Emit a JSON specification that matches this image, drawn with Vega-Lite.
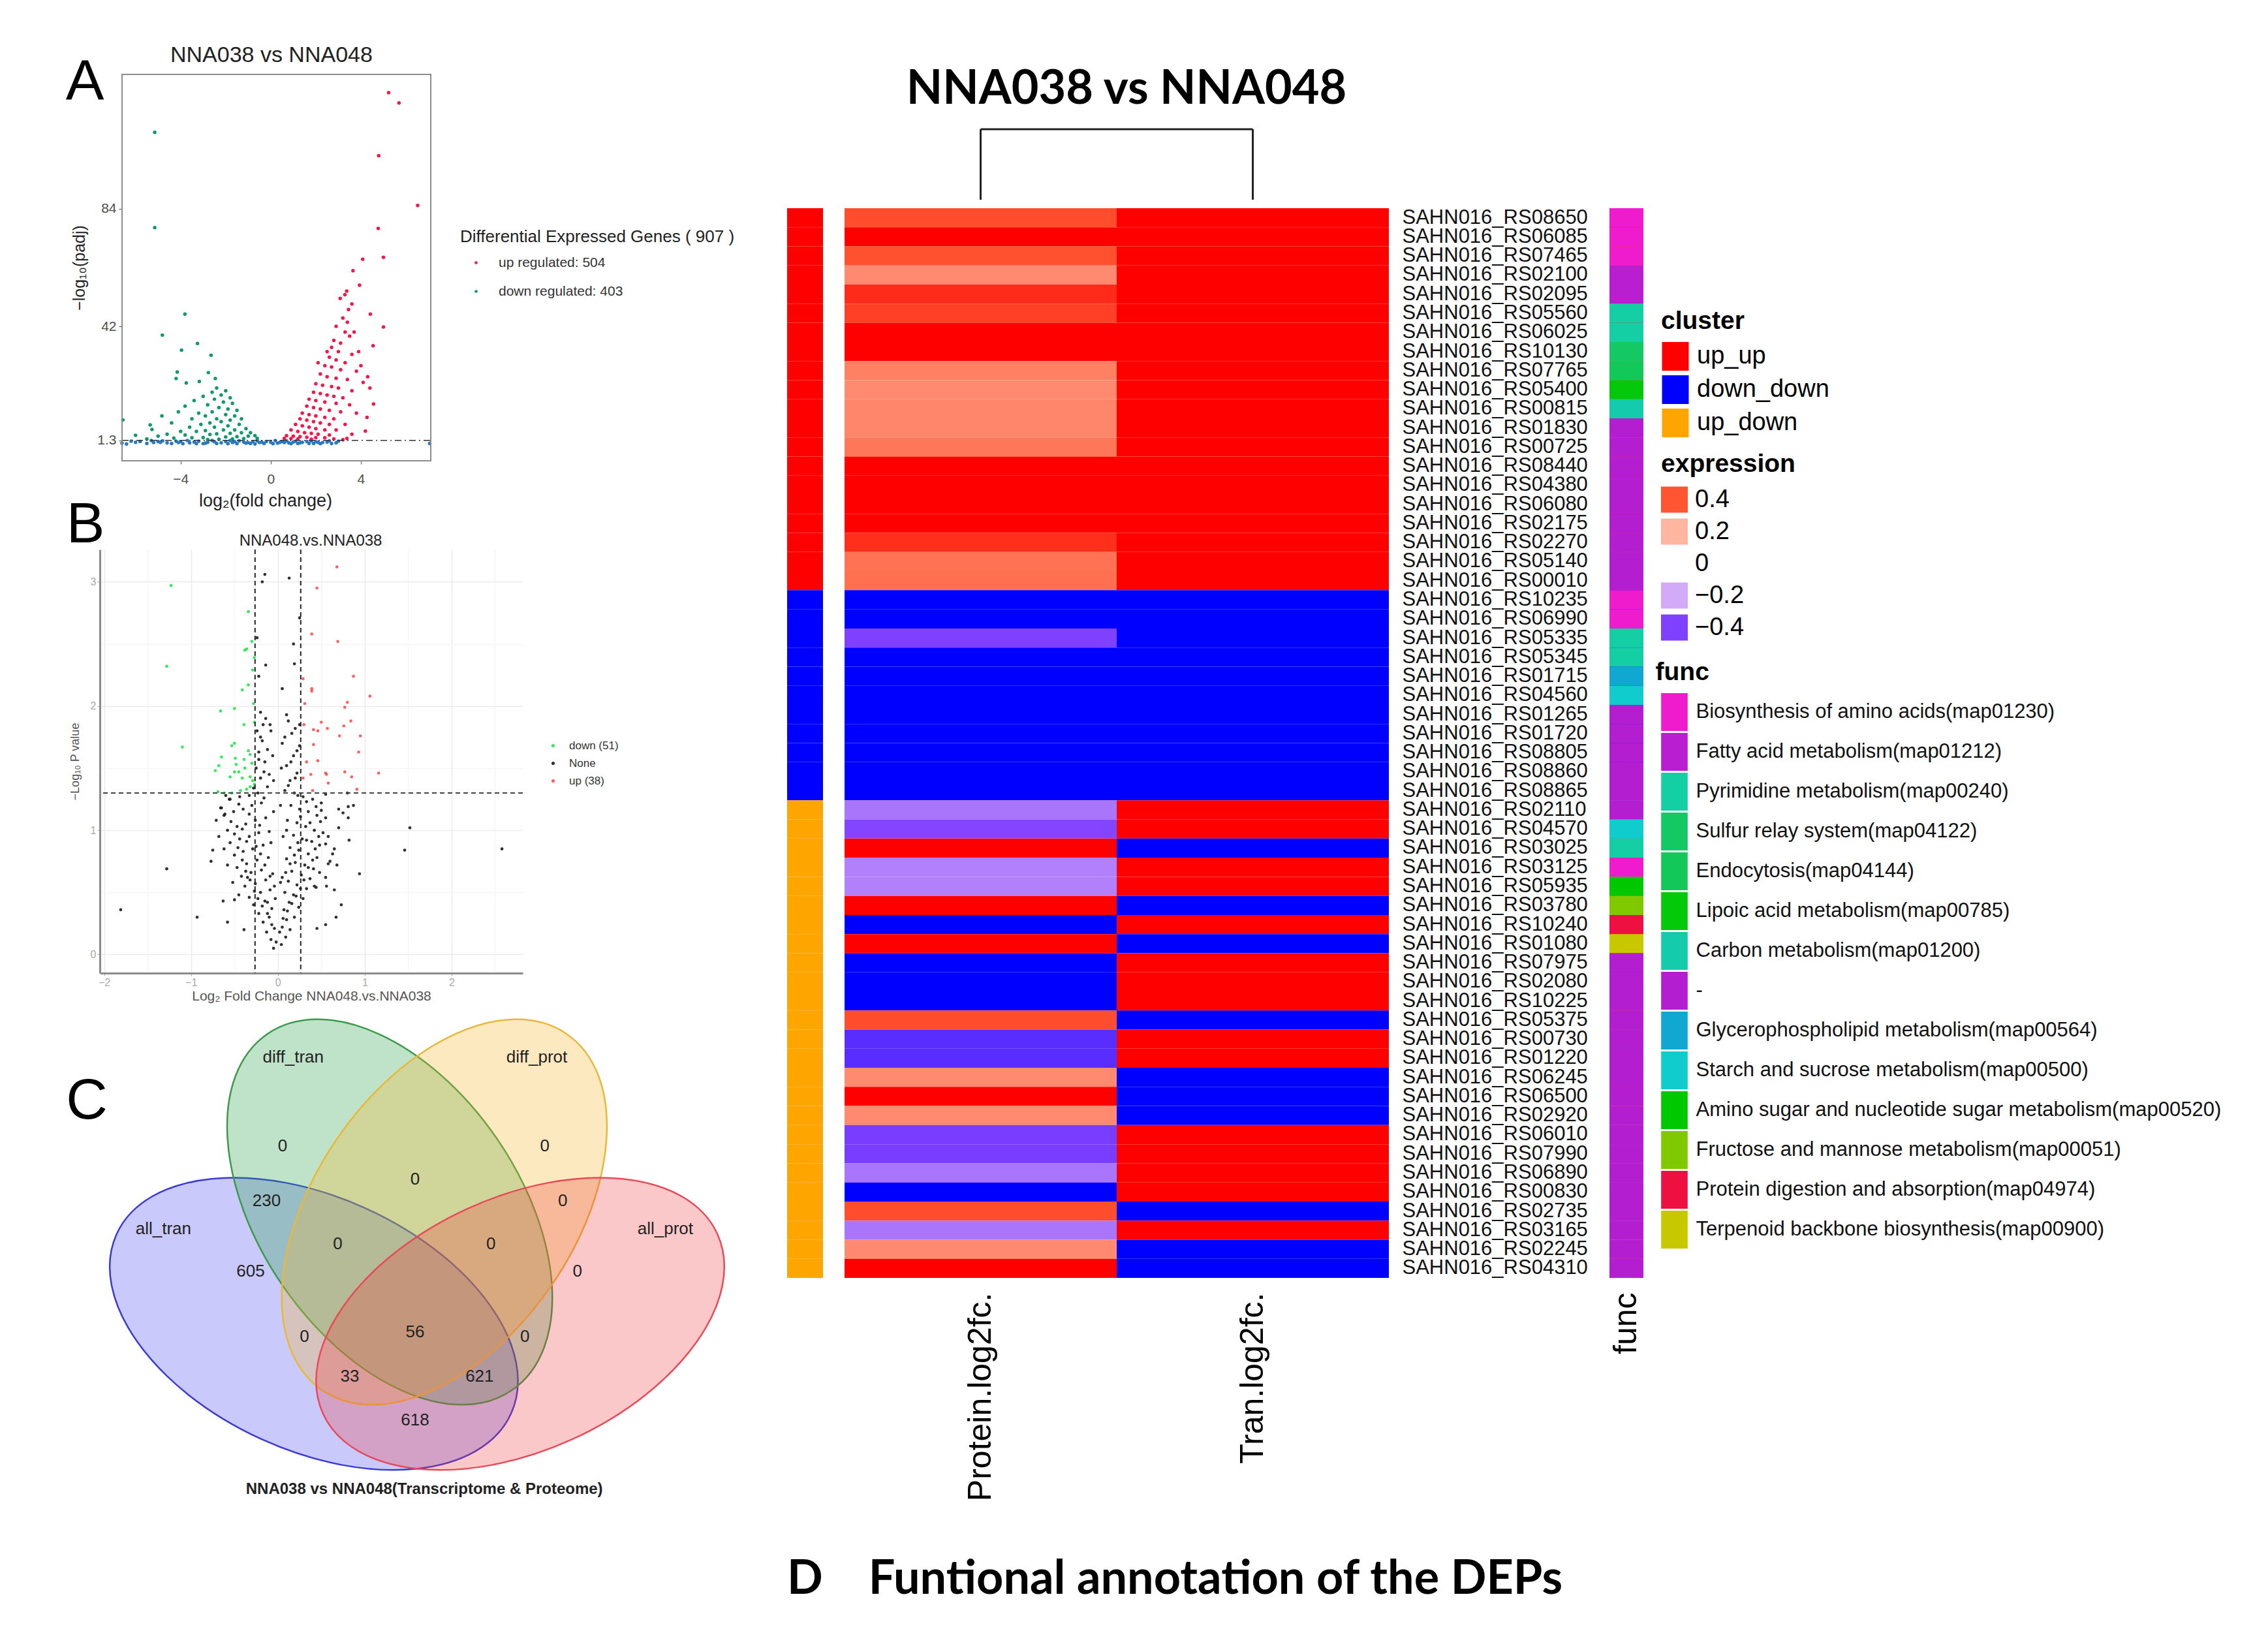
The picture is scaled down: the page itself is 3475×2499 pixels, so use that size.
{
"$schema": "https://vega.github.io/schema/vega-lite/v6.json",
"background": "white",
"padding": {"left": 100, "top": 67, "right": 10, "bottom": 10},
"config": {
 "font": "Liberation Sans",
 "view": {"stroke": null},
 "axis": {"labelFont": "Liberation Sans", "titleFont": "Liberation Sans", "titleFontWeight": "normal"},
 "legend": {"labelFont": "Liberation Sans", "titleFont": "Liberation Sans", "padding": 0, "direction": "vertical", "labelLimit": 1500, "titleLimit": 1500},
 "title": {"font": "Liberation Sans", "fontWeight": "normal", "color": "#111"}
},
"datasets": {
 "genes": [
  {"gene":"SAHN016_RS08650","cluster":"up_up","func":"Biosynthesis of amino acids(map01230)","P":0.42,"T":1.6},
  {"gene":"SAHN016_RS06085","cluster":"up_up","func":"Biosynthesis of amino acids(map01230)","P":0.85,"T":1.4},
  {"gene":"SAHN016_RS07465","cluster":"up_up","func":"Biosynthesis of amino acids(map01230)","P":0.41,"T":1.9},
  {"gene":"SAHN016_RS02100","cluster":"up_up","func":"Fatty acid metabolism(map01212)","P":0.29,"T":1.3},
  {"gene":"SAHN016_RS02095","cluster":"up_up","func":"Fatty acid metabolism(map01212)","P":0.5,"T":1.5},
  {"gene":"SAHN016_RS05560","cluster":"up_up","func":"Pyrimidine metabolism(map00240)","P":0.45,"T":2.1},
  {"gene":"SAHN016_RS06025","cluster":"up_up","func":"Pyrimidine metabolism(map00240)","P":0.9,"T":1.7},
  {"gene":"SAHN016_RS10130","cluster":"up_up","func":"Sulfur relay system(map04122)","P":0.95,"T":1.2},
  {"gene":"SAHN016_RS07765","cluster":"up_up","func":"Endocytosis(map04144)","P":0.31,"T":1.8},
  {"gene":"SAHN016_RS05400","cluster":"up_up","func":"Lipoic acid metabolism(map00785)","P":0.29,"T":1.6},
  {"gene":"SAHN016_RS00815","cluster":"up_up","func":"Carbon metabolism(map01200)","P":0.3,"T":1.4},
  {"gene":"SAHN016_RS01830","cluster":"up_up","func":"-","P":0.3,"T":1.5},
  {"gene":"SAHN016_RS00725","cluster":"up_up","func":"-","P":0.33,"T":2.0},
  {"gene":"SAHN016_RS08440","cluster":"up_up","func":"-","P":0.8,"T":1.3},
  {"gene":"SAHN016_RS04380","cluster":"up_up","func":"-","P":1.1,"T":1.9},
  {"gene":"SAHN016_RS06080","cluster":"up_up","func":"-","P":0.75,"T":1.7},
  {"gene":"SAHN016_RS02175","cluster":"up_up","func":"-","P":0.7,"T":1.1},
  {"gene":"SAHN016_RS02270","cluster":"up_up","func":"-","P":0.49,"T":1.6},
  {"gene":"SAHN016_RS05140","cluster":"up_up","func":"-","P":0.34,"T":1.4},
  {"gene":"SAHN016_RS00010","cluster":"up_up","func":"-","P":0.345,"T":1.2},
  {"gene":"SAHN016_RS10235","cluster":"down_down","func":"Biosynthesis of amino acids(map01230)","P":-1.0,"T":-1.5},
  {"gene":"SAHN016_RS06990","cluster":"down_down","func":"Biosynthesis of amino acids(map01230)","P":-0.9,"T":-1.3},
  {"gene":"SAHN016_RS05335","cluster":"down_down","func":"Pyrimidine metabolism(map00240)","P":-0.4,"T":-1.6},
  {"gene":"SAHN016_RS05345","cluster":"down_down","func":"Pyrimidine metabolism(map00240)","P":-0.8,"T":-1.2},
  {"gene":"SAHN016_RS01715","cluster":"down_down","func":"Glycerophospholipid metabolism(map00564)","P":-0.75,"T":-1.4},
  {"gene":"SAHN016_RS04560","cluster":"down_down","func":"Starch and sucrose metabolism(map00500)","P":-0.9,"T":-1.7},
  {"gene":"SAHN016_RS01265","cluster":"down_down","func":"-","P":-1.1,"T":-1.3},
  {"gene":"SAHN016_RS01720","cluster":"down_down","func":"-","P":-0.85,"T":-1.5},
  {"gene":"SAHN016_RS08805","cluster":"down_down","func":"-","P":-0.7,"T":-1.1},
  {"gene":"SAHN016_RS08860","cluster":"down_down","func":"-","P":-0.95,"T":-1.6},
  {"gene":"SAHN016_RS08865","cluster":"down_down","func":"-","P":-0.8,"T":-1.4},
  {"gene":"SAHN016_RS02110","cluster":"up_down","func":"-","P":-0.3,"T":1.3},
  {"gene":"SAHN016_RS04570","cluster":"up_down","func":"Starch and sucrose metabolism(map00500)","P":-0.39,"T":1.2},
  {"gene":"SAHN016_RS03025","cluster":"up_down","func":"Pyrimidine metabolism(map00240)","P":0.8,"T":-1.1},
  {"gene":"SAHN016_RS03125","cluster":"up_down","func":"Biosynthesis of amino acids(map01230)","P":-0.28,"T":1.5},
  {"gene":"SAHN016_RS05935","cluster":"up_down","func":"Amino sugar and nucleotide sugar metabolism(map00520)","P":-0.28,"T":1.4},
  {"gene":"SAHN016_RS03780","cluster":"up_down","func":"Fructose and mannose metabolism(map00051)","P":0.75,"T":-1.2},
  {"gene":"SAHN016_RS10240","cluster":"up_down","func":"Protein digestion and absorption(map04974)","P":-0.9,"T":1.3},
  {"gene":"SAHN016_RS01080","cluster":"up_down","func":"Terpenoid backbone biosynthesis(map00900)","P":0.8,"T":-1.4},
  {"gene":"SAHN016_RS07975","cluster":"up_down","func":"-","P":-0.85,"T":1.6},
  {"gene":"SAHN016_RS02080","cluster":"up_down","func":"-","P":-0.9,"T":1.2},
  {"gene":"SAHN016_RS10225","cluster":"up_down","func":"-","P":-0.8,"T":1.5},
  {"gene":"SAHN016_RS05375","cluster":"up_down","func":"-","P":0.42,"T":-1.3},
  {"gene":"SAHN016_RS00730","cluster":"up_down","func":"-","P":-0.46,"T":1.4},
  {"gene":"SAHN016_RS01220","cluster":"up_down","func":"-","P":-0.46,"T":1.7},
  {"gene":"SAHN016_RS06245","cluster":"up_down","func":"-","P":0.29,"T":-1.2},
  {"gene":"SAHN016_RS06500","cluster":"up_down","func":"-","P":0.7,"T":-1.5},
  {"gene":"SAHN016_RS02920","cluster":"up_down","func":"-","P":0.29,"T":-1.1},
  {"gene":"SAHN016_RS06010","cluster":"up_down","func":"-","P":-0.41,"T":1.3},
  {"gene":"SAHN016_RS07990","cluster":"up_down","func":"-","P":-0.41,"T":1.6},
  {"gene":"SAHN016_RS06890","cluster":"up_down","func":"-","P":-0.3,"T":1.2},
  {"gene":"SAHN016_RS00830","cluster":"up_down","func":"-","P":-0.75,"T":1.8},
  {"gene":"SAHN016_RS02735","cluster":"up_down","func":"-","P":0.42,"T":-1.3},
  {"gene":"SAHN016_RS03165","cluster":"up_down","func":"-","P":-0.3,"T":1.1},
  {"gene":"SAHN016_RS02245","cluster":"up_down","func":"-","P":0.29,"T":-1.4},
  {"gene":"SAHN016_RS04310","cluster":"up_down","func":"-","P":0.9,"T":-1.2}
 ],
 "volA": [
  {"x":-6.6,"y":0.3,"g":"none"},{"x":-6.2,"y":1.0,"g":"none"},{"x":-5.8,"y":0.9,"g":"none"},{"x":-5.5,"y":0.2,"g":"none"},{"x":-5.2,"y":0.5,"g":"none"},{"x":-4.9,"y":0.6,"g":"none"},{"x":-4.8,"y":1.1,"g":"none"},{"x":-4.4,"y":0.2,"g":"none"},{"x":-4.0,"y":0.8,"g":"none"},{"x":-3.9,"y":0.1,"g":"none"},{"x":-3.6,"y":0.4,"g":"none"},{"x":-3.2,"y":1.0,"g":"none"},{"x":-3.0,"y":0.15,"g":"none"},{"x":-2.8,"y":0.6,"g":"none"},{"x":-2.6,"y":1.2,"g":"none"},{"x":-2.4,"y":0.2,"g":"none"},{"x":-2.0,"y":0.9,"g":"none"},{"x":-1.7,"y":0.5,"g":"none"},{"x":-1.5,"y":0.1,"g":"none"},{"x":-1.4,"y":1.1,"g":"none"},{"x":-1.1,"y":0.3,"g":"none"},{"x":-0.8,"y":0.8,"g":"none"},{"x":-0.6,"y":1.1,"g":"none"},{"x":-0.5,"y":0.5,"g":"none"},{"x":-0.3,"y":0.2,"g":"none"},{"x":0,"y":0.6,"g":"none"},{"x":0.2,"y":1.2,"g":"none"},{"x":0.3,"y":0.3,"g":"none"},{"x":0.5,"y":0.9,"g":"none"},{"x":0.8,"y":0.4,"g":"none"},{"x":0.9,"y":0.1,"g":"none"},{"x":1.1,"y":1.0,"g":"none"},{"x":1.4,"y":0.6,"g":"none"},{"x":1.7,"y":0.2,"g":"none"},{"x":1.9,"y":0.2,"g":"none"},{"x":2.0,"y":0.8,"g":"none"},{"x":2.3,"y":0.5,"g":"none"},{"x":2.6,"y":1.1,"g":"none"},{"x":2.9,"y":0.4,"g":"none"},{"x":7.05,"y":0.2,"g":"none"},
  {"x":-5.0,"y":0.9,"g":"none"},{"x":-4.6,"y":0.4,"g":"none"},{"x":-4.2,"y":1.0,"g":"none"},{"x":-3.4,"y":0.7,"g":"none"},{"x":-2.2,"y":0.4,"g":"none"},{"x":-1.9,"y":0.1,"g":"none"},{"x":-1.2,"y":0.7,"g":"none"},{"x":-0.9,"y":0.2,"g":"none"},{"x":-0.2,"y":0.9,"g":"none"},{"x":0.1,"y":0.1,"g":"none"},{"x":0.6,"y":0.5,"g":"none"},{"x":1.2,"y":0.2,"g":"none"},{"x":1.6,"y":0.9,"g":"none"},{"x":2.2,"y":0.1,"g":"none"},{"x":2.5,"y":0.7,"g":"none"},{"x":3.0,"y":1.0,"g":"none"},{"x":-6.0,"y":0.6,"g":"none"},{"x":-3.7,"y":1.2,"g":"none"},{"x":-2.9,"y":0.3,"g":"none"},{"x":-1.8,"y":1.2,"g":"none"},{"x":-1.0,"y":0.5,"g":"none"},{"x":-0.4,"y":0.7,"g":"none"},{"x":0.4,"y":0.6,"g":"none"},{"x":1.0,"y":0.7,"g":"none"},{"x":1.8,"y":1.1,"g":"none"},{"x":2.7,"y":0.2,"g":"none"},{"x":-5.3,"y":1.2,"g":"none"},{"x":-4.1,"y":0.5,"g":"none"},{"x":-3.3,"y":0.1,"g":"none"},{"x":-2.5,"y":0.8,"g":"none"},{"x":-1.6,"y":0.8,"g":"none"},{"x":-0.7,"y":0.0,"g":"none"},{"x":0.7,"y":1.1,"g":"none"},{"x":1.3,"y":0.4,"g":"none"},{"x":2.1,"y":0.6,"g":"none"},{"x":-6.4,"y":0.0,"g":"none"},
  {"x":-5.15,"y":111.3,"g":"down"},{"x":-5.15,"y":77.3,"g":"down"},{"x":-3.81,"y":46.4,"g":"down"},{"x":-4.81,"y":38.9,"g":"down"},{"x":-3.96,"y":33.5,"g":"down"},{"x":-3.25,"y":35.9,"g":"down"},{"x":-2.65,"y":31.7,"g":"down"},{"x":-4.15,"y":25.7,"g":"down"},{"x":-4.2,"y":23.4,"g":"down"},{"x":-2.77,"y":25.5,"g":"down"},{"x":-3.75,"y":21.8,"g":"down"},{"x":-3.17,"y":22.3,"g":"down"},{"x":-2.46,"y":23.4,"g":"down"},{"x":-4.83,"y":10,"g":"down"},{"x":-6.56,"y":8.6,"g":"down"},{"x":-5.35,"y":6.8,"g":"down"},{"x":-5.27,"y":5.2,"g":"down"},{"x":-6.0,"y":3.1,"g":"down"},
  {"x":-2.4,"y":20,"g":"down"},{"x":-2.0,"y":19,"g":"down"},{"x":-2.6,"y":18.5,"g":"down"},{"x":-2.2,"y":17.5,"g":"down"},{"x":-3.0,"y":17,"g":"down"},{"x":-1.8,"y":16.5,"g":"down"},{"x":-2.5,"y":16,"g":"down"},{"x":-3.4,"y":15.5,"g":"down"},{"x":-2.1,"y":15,"g":"down"},{"x":-1.7,"y":14.5,"g":"down"},{"x":-2.8,"y":14,"g":"down"},{"x":-3.8,"y":13.5,"g":"down"},{"x":-2.3,"y":13,"g":"down"},{"x":-1.9,"y":12.5,"g":"down"},{"x":-1.5,"y":12,"g":"down"},{"x":-2.6,"y":11.5,"g":"down"},{"x":-3.2,"y":11,"g":"down"},{"x":-4.1,"y":11.5,"g":"down"},{"x":-2.0,"y":10.5,"g":"down"},{"x":-1.6,"y":10,"g":"down"},{"x":-2.9,"y":10,"g":"down"},{"x":-1.3,"y":9,"g":"down"},{"x":-2.4,"y":9,"g":"down"},{"x":-3.5,"y":9,"g":"down"},{"x":-1.8,"y":8.5,"g":"down"},{"x":-2.2,"y":8,"g":"down"},{"x":-2.7,"y":7.5,"g":"down"},{"x":-3.1,"y":7,"g":"down"},{"x":-4.4,"y":7.5,"g":"down"},{"x":-1.4,"y":7,"g":"down"},{"x":-1.9,"y":6.5,"g":"down"},{"x":-2.5,"y":6,"g":"down"},{"x":-3.6,"y":6,"g":"down"},{"x":-1.1,"y":5.5,"g":"down"},{"x":-1.6,"y":5,"g":"down"},{"x":-2.1,"y":5,"g":"down"},{"x":-2.9,"y":4.8,"g":"down"},{"x":-3.3,"y":4.5,"g":"down"},{"x":-4.0,"y":4.5,"g":"down"},{"x":-0.9,"y":4,"g":"down"},{"x":-1.3,"y":4,"g":"down"},{"x":-1.8,"y":3.8,"g":"down"},{"x":-2.4,"y":3.6,"g":"down"},{"x":-2.7,"y":3.4,"g":"down"},{"x":-3.8,"y":3.2,"g":"down"},{"x":-4.6,"y":3.5,"g":"down"},{"x":-5.0,"y":2.8,"g":"down"},{"x":-0.7,"y":3,"g":"down"},{"x":-1.0,"y":2.8,"g":"down"},{"x":-1.5,"y":2.6,"g":"down"},{"x":-2.0,"y":2.5,"g":"down"},{"x":-3.0,"y":2.3,"g":"down"},{"x":-3.5,"y":2.2,"g":"down"},{"x":-4.3,"y":2.1,"g":"down"},{"x":-0.6,"y":2.0,"g":"down"},{"x":-1.2,"y":1.9,"g":"down"},{"x":-1.7,"y":1.8,"g":"down"},{"x":-2.3,"y":1.7,"g":"down"},{"x":-2.8,"y":1.6,"g":"down"},{"x":-5.5,"y":1.8,"g":"down"},
  {"x":5.23,"y":125.5,"g":"up"},{"x":5.69,"y":121.8,"g":"up"},{"x":4.79,"y":103,"g":"up"},{"x":6.52,"y":85.2,"g":"up"},{"x":4.77,"y":77,"g":"up"},{"x":4.08,"y":66,"g":"up"},{"x":5.0,"y":66.7,"g":"up"},{"x":3.65,"y":61.9,"g":"up"},{"x":3.94,"y":56.7,"g":"up"},{"x":3.37,"y":54.6,"g":"up"},{"x":3.29,"y":53.3,"g":"up"},{"x":3.08,"y":52,"g":"up"},{"x":3.6,"y":50,"g":"up"},{"x":4.42,"y":46.4,"g":"up"},{"x":5.0,"y":41.8,"g":"up"},{"x":4.54,"y":35.1,"g":"up"},{"x":4.56,"y":14.3,"g":"up"},{"x":4.2,"y":4.6,"g":"up"},{"x":4.27,"y":9.5,"g":"up"},{"x":3.38,"y":2,"g":"up"},
  {"x":3.2,"y":45,"g":"up"},{"x":3.45,"y":48,"g":"up"},{"x":3.4,"y":43.5,"g":"up"},{"x":2.9,"y":42,"g":"up"},{"x":3.3,"y":40,"g":"up"},{"x":3.7,"y":40,"g":"up"},{"x":3.5,"y":38.5,"g":"up"},{"x":2.8,"y":37,"g":"up"},{"x":3.1,"y":36,"g":"up"},{"x":2.7,"y":34.5,"g":"up"},{"x":3.0,"y":33,"g":"up"},{"x":2.5,"y":33,"g":"up"},{"x":3.9,"y":33,"g":"up"},{"x":3.6,"y":32,"g":"up"},{"x":2.6,"y":31,"g":"up"},{"x":2.9,"y":30,"g":"up"},{"x":3.3,"y":29,"g":"up"},{"x":2.1,"y":29,"g":"up"},{"x":2.4,"y":28,"g":"up"},{"x":4.0,"y":28,"g":"up"},{"x":2.7,"y":27.5,"g":"up"},{"x":3.1,"y":26.5,"g":"up"},{"x":3.8,"y":26,"g":"up"},{"x":2.2,"y":25,"g":"up"},{"x":2.5,"y":24,"g":"up"},{"x":4.3,"y":24,"g":"up"},{"x":2.9,"y":23.5,"g":"up"},{"x":3.4,"y":23,"g":"up"},{"x":4.1,"y":22,"g":"up"},{"x":2.0,"y":21.5,"g":"up"},{"x":2.3,"y":21,"g":"up"},{"x":2.7,"y":20.5,"g":"up"},{"x":3.0,"y":20,"g":"up"},{"x":4.4,"y":20,"g":"up"},{"x":3.6,"y":19,"g":"up"},{"x":1.9,"y":18.5,"g":"up"},{"x":2.2,"y":18,"g":"up"},{"x":2.5,"y":17.5,"g":"up"},{"x":2.8,"y":17,"g":"up"},{"x":3.2,"y":16.5,"g":"up"},{"x":1.7,"y":16,"g":"up"},{"x":2.0,"y":15.5,"g":"up"},{"x":2.4,"y":15,"g":"up"},{"x":2.9,"y":14.5,"g":"up"},{"x":3.5,"y":14,"g":"up"},{"x":1.6,"y":13.5,"g":"up"},{"x":1.9,"y":13,"g":"up"},{"x":2.2,"y":12.5,"g":"up"},{"x":2.6,"y":12,"g":"up"},{"x":3.1,"y":11.5,"g":"up"},{"x":3.8,"y":11,"g":"up"},{"x":1.4,"y":11,"g":"up"},{"x":1.7,"y":10.5,"g":"up"},{"x":2.0,"y":10,"g":"up"},{"x":2.4,"y":9.5,"g":"up"},{"x":2.8,"y":9,"g":"up"},{"x":1.3,"y":9,"g":"up"},{"x":1.6,"y":8.5,"g":"up"},{"x":1.9,"y":8,"g":"up"},{"x":2.2,"y":7.5,"g":"up"},{"x":2.6,"y":7,"g":"up"},{"x":3.3,"y":7,"g":"up"},{"x":1.1,"y":7,"g":"up"},{"x":1.4,"y":6.5,"g":"up"},{"x":1.7,"y":6,"g":"up"},{"x":2.0,"y":5.5,"g":"up"},{"x":2.4,"y":5,"g":"up"},{"x":2.9,"y":5,"g":"up"},{"x":0.9,"y":5,"g":"up"},{"x":1.2,"y":4.5,"g":"up"},{"x":1.5,"y":4,"g":"up"},{"x":1.8,"y":3.8,"g":"up"},{"x":2.1,"y":3.5,"g":"up"},{"x":2.6,"y":3.2,"g":"up"},{"x":3.6,"y":3.5,"g":"up"},{"x":0.7,"y":3,"g":"up"},{"x":1.0,"y":2.8,"g":"up"},{"x":1.3,"y":2.6,"g":"up"},{"x":1.6,"y":2.4,"g":"up"},{"x":2.0,"y":2.3,"g":"up"},{"x":2.4,"y":2.2,"g":"up"},{"x":0.6,"y":2.0,"g":"up"},{"x":0.9,"y":1.9,"g":"up"},{"x":1.2,"y":1.8,"g":"up"},{"x":1.8,"y":1.7,"g":"up"},{"x":2.8,"y":1.8,"g":"up"},{"x":3.2,"y":1.5,"g":"up"}
 ],
 "volB": [
  {"x":-0.05,"y":0.05,"g":"none"},{"x":-0.08,"y":0.12,"g":"none"},{"x":-0.13,"y":0.18,"g":"none"},{"x":-0.04,"y":0.21,"g":"none"},{"x":-0.17,"y":0.26,"g":"none"},{"x":-0.1,"y":0.3,"g":"none"},{"x":-0.22,"y":0.33,"g":"none"},{"x":-0.07,"y":0.37,"g":"none"},{"x":-0.28,"y":0.4,"g":"none"},{"x":-0.15,"y":0.43,"g":"none"},{"x":-0.33,"y":0.46,"g":"none"},{"x":-0.2,"y":0.5,"g":"none"},{"x":-0.09,"y":0.52,"g":"none"},{"x":-0.38,"y":0.55,"g":"none"},{"x":-0.26,"y":0.57,"g":"none"},{"x":-0.14,"y":0.6,"g":"none"},{"x":-0.42,"y":0.63,"g":"none"},{"x":-0.31,"y":0.66,"g":"none"},{"x":-0.19,"y":0.68,"g":"none"},{"x":-0.47,"y":0.7,"g":"none"},{"x":-0.36,"y":0.73,"g":"none"},{"x":-0.24,"y":0.76,"g":"none"},{"x":-0.11,"y":0.78,"g":"none"},{"x":-0.5,"y":0.8,"g":"none"},{"x":-0.4,"y":0.83,"g":"none"},{"x":-0.29,"y":0.85,"g":"none"},{"x":-0.17,"y":0.88,"g":"none"},{"x":-0.55,"y":0.9,"g":"none"},{"x":-0.44,"y":0.93,"g":"none"},{"x":-0.33,"y":0.95,"g":"none"},{"x":-0.22,"y":0.98,"g":"none"},{"x":-0.58,"y":1.0,"g":"none"},{"x":-0.47,"y":1.03,"g":"none"},{"x":-0.37,"y":1.05,"g":"none"},{"x":-0.26,"y":1.08,"g":"none"},{"x":-0.14,"y":1.1,"g":"none"},{"x":-0.62,"y":1.12,"g":"none"},{"x":-0.51,"y":1.15,"g":"none"},{"x":-0.4,"y":1.17,"g":"none"},{"x":-0.3,"y":1.2,"g":"none"},{"x":-0.19,"y":1.22,"g":"none"},{"x":-0.56,"y":1.25,"g":"none"},{"x":-0.44,"y":1.27,"g":"none"},{"x":-0.33,"y":1.28,"g":"none"},{"x":-0.23,"y":1.3,"g":"none"},{"x":-0.12,"y":1.35,"g":"none"},{"x":-0.2,"y":1.42,"g":"none"},{"x":-0.25,"y":1.5,"g":"none"},{"x":-0.15,"y":1.55,"g":"none"},{"x":-0.22,"y":1.63,"g":"none"},{"x":-0.18,"y":1.72,"g":"none"},{"x":-0.24,"y":1.8,"g":"none"},{"x":-0.14,"y":1.9,"g":"none"},{"x":-0.2,"y":1.95,"g":"none"},{"x":-0.09,"y":1.85,"g":"none"},{"x":-0.06,"y":1.6,"g":"none"},{"x":-0.1,"y":1.45,"g":"none"},{"x":-0.35,"y":0.62,"g":"none"},{"x":-0.45,"y":0.48,"g":"none"},{"x":-0.52,"y":0.58,"g":"none"},{"x":-0.58,"y":0.72,"g":"none"},{"x":-0.62,"y":0.85,"g":"none"},{"x":-0.68,"y":0.95,"g":"none"},{"x":-0.71,"y":1.08,"g":"none"},{"x":-0.66,"y":1.18,"g":"none"},{"x":-0.03,"y":0.45,"g":"none"},{"x":-0.06,"y":0.65,"g":"none"},{"x":-0.08,"y":0.9,"g":"none"},{"x":-0.05,"y":1.15,"g":"none"},{"x":-0.12,"y":0.42,"g":"none"},
  {"x":0.04,"y":0.08,"g":"none"},{"x":0.09,"y":0.14,"g":"none"},{"x":0.05,"y":0.22,"g":"none"},{"x":0.14,"y":0.2,"g":"none"},{"x":0.1,"y":0.28,"g":"none"},{"x":0.19,"y":0.3,"g":"none"},{"x":0.07,"y":0.36,"g":"none"},{"x":0.24,"y":0.38,"g":"none"},{"x":0.13,"y":0.42,"g":"none"},{"x":0.29,"y":0.45,"g":"none"},{"x":0.18,"y":0.48,"g":"none"},{"x":0.08,"y":0.5,"g":"none"},{"x":0.33,"y":0.53,"g":"none"},{"x":0.22,"y":0.56,"g":"none"},{"x":0.12,"y":0.59,"g":"none"},{"x":0.37,"y":0.61,"g":"none"},{"x":0.27,"y":0.64,"g":"none"},{"x":0.16,"y":0.67,"g":"none"},{"x":0.41,"y":0.69,"g":"none"},{"x":0.31,"y":0.72,"g":"none"},{"x":0.2,"y":0.74,"g":"none"},{"x":0.1,"y":0.77,"g":"none"},{"x":0.45,"y":0.78,"g":"none"},{"x":0.35,"y":0.81,"g":"none"},{"x":0.24,"y":0.84,"g":"none"},{"x":0.14,"y":0.86,"g":"none"},{"x":0.48,"y":0.88,"g":"none"},{"x":0.39,"y":0.91,"g":"none"},{"x":0.28,"y":0.93,"g":"none"},{"x":0.18,"y":0.96,"g":"none"},{"x":0.52,"y":0.98,"g":"none"},{"x":0.42,"y":1.0,"g":"none"},{"x":0.32,"y":1.03,"g":"none"},{"x":0.22,"y":1.06,"g":"none"},{"x":0.11,"y":1.08,"g":"none"},{"x":0.55,"y":1.1,"g":"none"},{"x":0.45,"y":1.12,"g":"none"},{"x":0.35,"y":1.15,"g":"none"},{"x":0.25,"y":1.17,"g":"none"},{"x":0.15,"y":1.2,"g":"none"},{"x":0.5,"y":1.22,"g":"none"},{"x":0.4,"y":1.25,"g":"none"},{"x":0.29,"y":1.27,"g":"none"},{"x":0.19,"y":1.3,"g":"none"},{"x":0.08,"y":1.32,"g":"none"},{"x":0.14,"y":1.4,"g":"none"},{"x":0.22,"y":1.46,"g":"none"},{"x":0.1,"y":1.52,"g":"none"},{"x":0.18,"y":1.6,"g":"none"},{"x":0.25,"y":1.68,"g":"none"},{"x":0.08,"y":1.75,"g":"none"},{"x":0.2,"y":1.82,"g":"none"},{"x":0.12,"y":1.88,"g":"none"},{"x":0.25,"y":1.85,"g":"none"},{"x":0.55,"y":0.62,"g":"none"},{"x":0.6,"y":0.75,"g":"none"},{"x":0.65,"y":0.85,"g":"none"},{"x":0.58,"y":0.95,"g":"none"},{"x":0.7,"y":1.02,"g":"none"},{"x":0.05,"y":0.62,"g":"none"},{"x":0.06,"y":0.95,"g":"none"},{"x":0.03,"y":1.2,"g":"none"},{"x":0.42,"y":0.55,"g":"none"},{"x":0.48,"y":0.66,"g":"none"},
  {"x":-0.02,"y":0.1,"g":"none"},{"x":0.02,"y":0.18,"g":"none"},{"x":-0.07,"y":0.24,"g":"none"},{"x":0.06,"y":0.29,"g":"none"},{"x":-0.12,"y":0.33,"g":"none"},{"x":0.11,"y":0.35,"g":"none"},{"x":-0.18,"y":0.39,"g":"none"},{"x":0.16,"y":0.41,"g":"none"},{"x":-0.23,"y":0.45,"g":"none"},{"x":0.21,"y":0.47,"g":"none"},{"x":-0.27,"y":0.51,"g":"none"},{"x":0.26,"y":0.53,"g":"none"},{"x":-0.04,"y":0.55,"g":"none"},{"x":0.03,"y":0.58,"g":"none"},{"x":-0.32,"y":0.6,"g":"none"},{"x":0.3,"y":0.6,"g":"none"},{"x":-0.09,"y":0.63,"g":"none"},{"x":0.09,"y":0.66,"g":"none"},{"x":-0.37,"y":0.67,"g":"none"},{"x":0.35,"y":0.7,"g":"none"},{"x":-0.15,"y":0.72,"g":"none"},{"x":0.14,"y":0.73,"g":"none"},{"x":-0.41,"y":0.76,"g":"none"},{"x":0.4,"y":0.76,"g":"none"},{"x":-0.2,"y":0.81,"g":"none"},{"x":0.19,"y":0.8,"g":"none"},{"x":-0.46,"y":0.86,"g":"none"},{"x":0.43,"y":0.85,"g":"none"},{"x":-0.25,"y":0.87,"g":"none"},{"x":0.23,"y":0.9,"g":"none"},{"x":-0.36,"y":0.91,"g":"none"},{"x":0.33,"y":0.92,"g":"none"},{"x":-0.5,"y":0.97,"g":"none"},{"x":0.47,"y":0.95,"g":"none"},{"x":-0.1,"y":0.99,"g":"none"},{"x":0.1,"y":1.0,"g":"none"},{"x":-0.41,"y":1.01,"g":"none"},{"x":0.37,"y":1.06,"g":"none"},{"x":-0.21,"y":1.04,"g":"none"},{"x":0.26,"y":1.11,"g":"none"},{"x":-0.54,"y":1.07,"g":"none"},{"x":0.5,"y":1.16,"g":"none"},{"x":-0.33,"y":1.13,"g":"none"},{"x":0.44,"y":1.19,"g":"none"},{"x":-0.45,"y":1.21,"g":"none"},{"x":0.33,"y":1.23,"g":"none"},{"x":-0.16,"y":1.26,"g":"none"},{"x":0.23,"y":1.28,"g":"none"},{"x":-0.6,"y":1.28,"g":"none"},{"x":0.55,"y":1.29,"g":"none"},{"x":-0.28,"y":1.34,"g":"none"},{"x":0.12,"y":1.36,"g":"none"},{"x":-0.05,"y":1.4,"g":"none"},{"x":0.2,"y":1.42,"g":"none"},{"x":-0.16,"y":1.47,"g":"none"},{"x":0.04,"y":1.5,"g":"none"},{"x":-0.22,"y":1.57,"g":"none"},{"x":0.15,"y":1.55,"g":"none"},{"x":-0.12,"y":1.65,"g":"none"},{"x":0.22,"y":1.64,"g":"none"},{"x":-0.2,"y":1.75,"g":"none"},{"x":0.05,"y":1.7,"g":"none"},{"x":0.16,"y":1.78,"g":"none"},{"x":-0.08,"y":1.8,"g":"none"},{"x":0.1,"y":1.93,"g":"none"},{"x":-0.17,"y":1.85,"g":"none"},
  {"x":1.52,"y":1.02,"g":"none"},{"x":1.46,"y":0.84,"g":"none"},{"x":2.58,"y":0.85,"g":"none"},{"x":0.94,"y":0.65,"g":"none"},{"x":-1.81,"y":0.36,"g":"none"},{"x":-1.28,"y":0.69,"g":"none"},{"x":-0.93,"y":0.3,"g":"none"},{"x":-0.58,"y":0.26,"g":"none"},{"x":-0.75,"y":0.84,"g":"none"},{"x":-0.77,"y":0.75,"g":"none"},{"x":-0.15,"y":3.06,"g":"none"},{"x":-0.18,"y":3.0,"g":"none"},{"x":0.13,"y":3.03,"g":"none"},{"x":0.25,"y":2.71,"g":"none"},{"x":0.18,"y":2.5,"g":"none"},{"x":0.19,"y":2.34,"g":"none"},{"x":-0.14,"y":2.33,"g":"none"},{"x":-0.24,"y":2.55,"g":"none"},{"x":0.05,"y":2.14,"g":"none"},{"x":-0.22,"y":2.24,"g":"none"},{"x":0.8,"y":1.3,"g":"none"},{"x":0.81,"y":1.19,"g":"none"},{"x":0.87,"y":1.2,"g":"none"},{"x":0.7,"y":1.17,"g":"none"},{"x":0.75,"y":1.14,"g":"none"},{"x":0.81,"y":1.1,"g":"none"},{"x":0.82,"y":0.92,"g":"none"},{"x":0.55,"y":0.89,"g":"none"},{"x":0.63,"y":0.81,"g":"none"},{"x":0.58,"y":0.73,"g":"none"},{"x":0.68,"y":0.72,"g":"none"},{"x":0.56,"y":0.55,"g":"none"},{"x":0.44,"y":0.54,"g":"none"},{"x":0.65,"y":0.52,"g":"none"},{"x":0.73,"y":0.4,"g":"none"},{"x":0.67,"y":0.3,"g":"none"},{"x":0.55,"y":0.24,"g":"none"},{"x":0.45,"y":0.21,"g":"none"},{"x":-0.63,"y":0.43,"g":"none"},{"x":-0.5,"y":0.44,"g":"none"},{"x":-0.39,"y":0.2,"g":"none"},{"x":-0.65,"y":1.18,"g":"none"},{"x":-0.61,"y":1.13,"g":"none"},{"x":-0.55,"y":1.25,"g":"none"},{"x":0.49,"y":1.07,"g":"none"},
  {"x":-1.23,"y":2.97,"g":"down"},{"x":-1.28,"y":2.32,"g":"down"},{"x":-1.1,"y":1.67,"g":"down"},{"x":-0.34,"y":2.76,"g":"down"},{"x":-0.3,"y":2.52,"g":"down"},{"x":-0.38,"y":2.45,"g":"down"},{"x":-0.36,"y":2.46,"g":"down"},{"x":-0.27,"y":2.39,"g":"down"},{"x":-0.29,"y":2.29,"g":"down"},{"x":-0.34,"y":2.17,"g":"down"},{"x":-0.41,"y":2.13,"g":"down"},{"x":-0.28,"y":2.02,"g":"down"},{"x":-0.66,"y":1.96,"g":"down"},{"x":-0.5,"y":1.98,"g":"down"},{"x":-0.39,"y":1.85,"g":"down"},{"x":-0.27,"y":1.87,"g":"down"},{"x":-0.5,"y":1.7,"g":"down"},{"x":-0.53,"y":1.68,"g":"down"},{"x":-0.34,"y":1.64,"g":"down"},{"x":-0.65,"y":1.59,"g":"down"},{"x":-0.68,"y":1.52,"g":"down"},{"x":-0.49,"y":1.58,"g":"down"},{"x":-0.48,"y":1.53,"g":"down"},{"x":-0.5,"y":1.47,"g":"down"},{"x":-0.39,"y":1.57,"g":"down"},{"x":-0.38,"y":1.5,"g":"down"},{"x":-0.32,"y":1.61,"g":"down"},{"x":-0.3,"y":1.54,"g":"down"},{"x":-0.72,"y":1.48,"g":"down"},{"x":-0.55,"y":1.43,"g":"down"},{"x":-0.41,"y":1.42,"g":"down"},{"x":-0.32,"y":1.43,"g":"down"},{"x":-0.29,"y":1.4,"g":"down"},{"x":-0.69,"y":1.31,"g":"down"},{"x":-0.62,"y":1.3,"g":"down"},{"x":-0.53,"y":1.3,"g":"down"},{"x":-0.43,"y":1.32,"g":"down"},{"x":-0.36,"y":1.33,"g":"down"},{"x":-0.32,"y":1.35,"g":"down"},{"x":-0.27,"y":1.37,"g":"down"},{"x":-0.45,"y":1.47,"g":"down"},
  {"x":0.68,"y":3.12,"g":"up"},{"x":0.45,"y":2.95,"g":"up"},{"x":0.39,"y":2.58,"g":"up"},{"x":0.69,"y":2.52,"g":"up"},{"x":0.29,"y":2.22,"g":"up"},{"x":0.87,"y":2.24,"g":"up"},{"x":0.39,"y":2.14,"g":"up"},{"x":0.39,"y":2.12,"g":"up"},{"x":1.06,"y":2.08,"g":"up"},{"x":0.31,"y":2.02,"g":"up"},{"x":0.8,"y":2.03,"g":"up"},{"x":0.77,"y":1.99,"g":"up"},{"x":0.3,"y":1.85,"g":"up"},{"x":0.5,"y":1.87,"g":"up"},{"x":0.57,"y":1.82,"g":"up"},{"x":0.41,"y":1.81,"g":"up"},{"x":0.46,"y":1.8,"g":"up"},{"x":0.76,"y":1.84,"g":"up"},{"x":0.84,"y":1.88,"g":"up"},{"x":0.71,"y":1.76,"g":"up"},{"x":0.95,"y":1.76,"g":"up"},{"x":0.41,"y":1.69,"g":"up"},{"x":0.93,"y":1.63,"g":"up"},{"x":0.46,"y":1.56,"g":"up"},{"x":0.33,"y":1.55,"g":"up"},{"x":0.55,"y":1.46,"g":"up"},{"x":0.56,"y":1.45,"g":"up"},{"x":0.38,"y":1.45,"g":"up"},{"x":0.77,"y":1.47,"g":"up"},{"x":0.85,"y":1.43,"g":"up"},{"x":1.16,"y":1.46,"g":"up"},{"x":0.29,"y":1.42,"g":"up"},{"x":0.58,"y":1.38,"g":"up"},{"x":0.4,"y":1.32,"g":"up"},{"x":0.91,"y":1.33,"g":"up"}
 ],
 "venn": [
  {"set":"all_tran","cx":0.344,"cy":0.359},
  {"set":"diff_tran","cx":0.458,"cy":0.583},
  {"set":"diff_prot","cx":0.54,"cy":0.583},
  {"set":"all_prot","cx":0.654,"cy":0.359}
 ],
 "vennText": [
  {"t":"diff_tran","x":0.313,"y":0.893,"k":"set"},
  {"t":"diff_prot","x":0.679,"y":0.893,"k":"set"},
  {"t":"all_tran","x":0.118,"y":0.549,"k":"set"},
  {"t":"all_prot","x":0.872,"y":0.549,"k":"set"},
  {"t":"0","x":0.297,"y":0.715,"k":"n"},
  {"t":"0","x":0.691,"y":0.715,"k":"n"},
  {"t":"0","x":0.496,"y":0.648,"k":"n"},
  {"t":"230","x":0.273,"y":0.605,"k":"n"},
  {"t":"0","x":0.718,"y":0.605,"k":"n"},
  {"t":"0","x":0.38,"y":0.519,"k":"n"},
  {"t":"0","x":0.61,"y":0.519,"k":"n"},
  {"t":"605","x":0.249,"y":0.464,"k":"n"},
  {"t":"0","x":0.74,"y":0.464,"k":"n"},
  {"t":"56","x":0.496,"y":0.342,"k":"n"},
  {"t":"0","x":0.33,"y":0.333,"k":"n"},
  {"t":"0","x":0.661,"y":0.333,"k":"n"},
  {"t":"33","x":0.398,"y":0.254,"k":"n"},
  {"t":"621","x":0.593,"y":0.254,"k":"n"},
  {"t":"618","x":0.496,"y":0.166,"k":"n"},
  {"t":"NNA038 vs NNA048(Transcriptome & Proteome)","x":0.51,"y":0.027,"k":"cap"},
  {"t":"C","x":0.003,"y":0.804,"k":"letter"}
 ]
},
"concat": [
 {
  "concat": [
   {
    "width": 507, "height": 592,
    "layer": [
     {
      "data": {"name": "volA"},
      "mark": {"type": "circle", "size": 30, "opacity": 1},
      "encoding": {
       "x": {"field": "x", "type": "quantitative", "scale": {"domain": [-7.584, 7.1], "nice": false, "zero": false},
             "axis": {"values": [-4, 0, 4], "grid": false, "domain": false, "tickColor": "#555", "tickSize": 5, "labelColor": "#4d4d4d", "labelFontSize": 21, "labelPadding": 12, "title": "log₂(fold change)", "titleFontSize": 27, "titleColor": "#222", "titlePadding": 10}},
       "y": {"field": "y", "type": "quantitative", "scale": {"domain": [-6, 132], "nice": false, "zero": false},
             "axis": {"values": [1.3, 42, 84], "format": ".1~f", "offset": -34, "grid": false, "domain": false, "tickColor": "#555", "tickSize": 5, "labelColor": "#4d4d4d", "labelFontSize": 21, "labelPadding": 4, "title": "−log₁₀(padj)", "titleFontSize": 25, "titleColor": "#222", "titlePadding": 14}},
       "color": {"field": "g", "type": "nominal",
                 "scale": {"domain": ["up", "down", "none"], "range": ["#f5174a", "#0e9a6c", "#2879c0"]},
                 "legend": {"values": ["up", "down"], "title": "Differential Expressed Genes ( 907 )", "orient": "none", "legendX": 552, "legendY": 236,
                            "titleFontSize": 26, "titleFontWeight": "normal", "titleColor": "#222", "titlePadding": 16, "labelFontSize": 21, "labelColor": "#333",
                            "labelExpr": "datum.value == 'up' ? 'up regulated: 504' : 'down regulated: 403'",
                            "symbolType": "circle", "symbolSize": 22, "symbolOffset": 14, "labelOffset": 24, "rowPadding": 22}}
      }
     },
     {
      "data": {"values": [{}]},
      "mark": {"type": "rule", "strokeDash": [10, 5, 2, 5], "color": "#333", "strokeWidth": 1.5},
      "encoding": {"x": {"datum": -6.6}, "x2": {"datum": 7.1}, "y": {"datum": 1.3}}
     },
     {
      "data": {"values": [{}]},
      "mark": {"type": "rect", "fillOpacity": 0, "fill": "white", "stroke": "#8c8c8c", "strokeWidth": 2},
      "encoding": {"x": {"datum": -6.6}, "x2": {"datum": 7.1}, "y": {"datum": -6}, "y2": {"datum": 132}}
     },
     {
      "data": {"values": [{}]},
      "mark": {"type": "text", "text": "A", "fontSize": 88, "align": "center", "baseline": "middle", "color": "#000"},
      "encoding": {"x": {"datum": -8.25}, "y": {"datum": 129}}
     },
     {
      "data": {"values": [{}]},
      "mark": {"type": "text", "text": "NNA038 vs NNA048", "fontSize": 34, "align": "center", "baseline": "middle", "color": "#222"},
      "encoding": {"x": {"datum": 0.03}, "y": {"datum": 138.8}}
     }
    ]
   },
   {
    "concat": [
     {
      "width": 648, "height": 649,
      "layer": [
       {
        "data": {"name": "volB"},
        "mark": {"type": "circle", "size": 22, "opacity": 0.9},
        "encoding": {
         "x": {"field": "x", "type": "quantitative", "scale": {"domain": [-2.05, 2.82], "nice": false, "zero": false},
               "axis": {"values": [-2, -1.5, -1, -0.5, 0, 0.5, 1, 1.5, 2, 2.5], "grid": true,
                        "gridColor": {"condition": {"test": "datum.value % 1 === 0", "value": "#ebebeb"}, "value": "#f5f5f5"}, "gridWidth": 1.5,
                        "labelExpr": "datum.value % 1 === 0 ? format(datum.value, 'd') : ''",
                        "tickOpacity": {"condition": {"test": "datum.value % 1 === 0", "value": 1}, "value": 0},
                        "tickColor": "#aaa", "tickSize": 4, "domainColor": "#8c8c8c", "domainWidth": 3,
                        "labelColor": "#aaa", "labelFontSize": 16, "title": "Log₂ Fold Change NNA048.vs.NNA038", "titleFontSize": 21, "titleColor": "#555", "titlePadding": 2}},
         "y": {"field": "y", "type": "quantitative", "scale": {"domain": [-0.15, 3.26], "nice": false, "zero": false},
               "axis": {"values": [0, 0.5, 1, 1.5, 2, 2.5, 3], "grid": true,
                        "gridColor": {"condition": {"test": "datum.value % 1 === 0", "value": "#ebebeb"}, "value": "#f5f5f5"}, "gridWidth": 1.5,
                        "labelExpr": "datum.value % 1 === 0 ? format(datum.value, 'd') : ''",
                        "tickOpacity": {"condition": {"test": "datum.value % 1 === 0", "value": 1}, "value": 0},
                        "tickColor": "#aaa", "tickSize": 4, "domainColor": "#8c8c8c", "domainWidth": 3,
                        "labelColor": "#aaa", "labelFontSize": 16, "title": "−Log₁₀ P value", "titleFontSize": 18, "titleColor": "#555", "titlePadding": 14}},
         "color": {"field": "g", "type": "nominal",
                   "scale": {"domain": ["down", "none", "up"], "range": ["#1ee84a", "#1a1a1a", "#ff4f4f"]},
                   "legend": {"title": null, "orient": "none", "legendX": 676, "legendY": 292,
                              "labelExpr": "datum.value == 'down' ? 'down (51)' : datum.value == 'up' ? 'up      (38)' : 'None'",
                              "labelFontSize": 17, "labelColor": "#333", "symbolType": "circle", "symbolSize": 26, "symbolOffset": 10, "labelOffset": 16, "rowPadding": 9}}
        }
       },
       {
        "data": {"values": [{"v": -0.263}, {"v": 0.263}]},
        "mark": {"type": "rule", "strokeDash": [7, 5], "color": "#222", "strokeWidth": 2},
        "encoding": {"x": {"field": "v", "type": "quantitative"}}
       },
       {
        "data": {"values": [{}]},
        "mark": {"type": "rule", "strokeDash": [7, 5], "color": "#444", "strokeWidth": 2},
        "encoding": {"y": {"datum": 1.3}}
       },
       {
        "data": {"values": [{}]},
        "mark": {"type": "text", "text": "B", "fontSize": 88, "align": "center", "baseline": "middle", "color": "#000"},
        "encoding": {"x": {"datum": -2.215}, "y": {"datum": 3.455}}
       },
       {
        "data": {"values": [{}]},
        "mark": {"type": "text", "text": "NNA048.vs.NNA038", "fontSize": 24, "align": "center", "baseline": "middle", "color": "#222"},
        "encoding": {"x": {"datum": 0.378}, "y": {"datum": 3.328}}
       }
      ]
     },
     {
      "width": 958, "height": 765,
      "layer": [
       {
        "data": {"name": "venn"},
        "transform": [{"filter": "datum.set == 'all_tran'"}],
        "mark": {"type": "point", "filled": true, "shape": "M -3.021 -1.377 A 3.32 1.94 24.5 1 0 3.021 1.377 A 3.32 1.94 24.5 1 0 -3.021 -1.377 Z", "size": 40000, "fill": "#3c3cf0", "fillOpacity": 0.28, "stroke": "#3a3ad8", "strokeWidth": 2.5, "strokeOpacity": 1, "opacity": 1},
        "encoding": {"x": {"field": "cx", "type": "quantitative", "scale": {"domain": [0.02255, 0.9618], "nice": false, "zero": false}, "axis": null},
                     "y": {"field": "cy", "type": "quantitative", "scale": {"domain": [0, 1], "nice": false, "zero": false}, "axis": null}}
       },
       {
        "data": {"name": "venn"},
        "transform": [{"filter": "datum.set == 'diff_tran'"}],
        "mark": {"type": "point", "filled": true, "shape": "M -1.875 -2.728 A 3.31 1.99 55.5 1 0 1.875 2.728 A 3.31 1.99 55.5 1 0 -1.875 -2.728 Z", "size": 40000, "fill": "#2aa248", "fillOpacity": 0.3, "stroke": "#3c9a4c", "strokeWidth": 2.5, "strokeOpacity": 1, "opacity": 1},
        "encoding": {"x": {"field": "cx", "type": "quantitative"}, "y": {"field": "cy", "type": "quantitative"}}
       },
       {
        "data": {"name": "venn"},
        "transform": [{"filter": "datum.set == 'diff_prot'"}],
        "mark": {"type": "point", "filled": true, "shape": "M -1.875 2.728 A 3.31 1.99 -55.5 1 0 1.875 -2.728 A 3.31 1.99 -55.5 1 0 -1.875 2.728 Z", "size": 40000, "fill": "#f8b62d", "fillOpacity": 0.3, "stroke": "#e8b83c", "strokeWidth": 2.5, "strokeOpacity": 1, "opacity": 1},
        "encoding": {"x": {"field": "cx", "type": "quantitative"}, "y": {"field": "cy", "type": "quantitative"}}
       },
       {
        "data": {"name": "venn"},
        "transform": [{"filter": "datum.set == 'all_prot'"}],
        "mark": {"type": "point", "filled": true, "shape": "M -3.021 1.377 A 3.32 1.94 -24.5 1 0 3.021 -1.377 A 3.32 1.94 -24.5 1 0 -3.021 1.377 Z", "size": 40000, "fill": "#ed3b3b", "fillOpacity": 0.28, "stroke": "#e84a5a", "strokeWidth": 2.5, "strokeOpacity": 1, "opacity": 1},
        "encoding": {"x": {"field": "cx", "type": "quantitative"}, "y": {"field": "cy", "type": "quantitative"}}
       },
       {
        "data": {"name": "vennText"},
        "transform": [{"filter": "datum.k == 'set' || datum.k == 'n'"}],
        "mark": {"type": "text", "fontSize": 26, "color": "#222", "align": "center", "baseline": "middle"},
        "encoding": {"x": {"field": "x", "type": "quantitative"}, "y": {"field": "y", "type": "quantitative"}, "text": {"field": "t"}}
       },
       {
        "data": {"name": "vennText"},
        "transform": [{"filter": "datum.k == 'cap'"}],
        "mark": {"type": "text", "fontSize": 24, "fontWeight": "bold", "color": "#222", "align": "center", "baseline": "middle"},
        "encoding": {"x": {"field": "x", "type": "quantitative"}, "y": {"field": "y", "type": "quantitative"}, "text": {"field": "t"}}
       },
       {
        "data": {"name": "vennText"},
        "transform": [{"filter": "datum.k == 'letter'"}],
        "mark": {"type": "text", "fontSize": 88, "color": "#000", "align": "center", "baseline": "middle"},
        "encoding": {"x": {"field": "x", "type": "quantitative"}, "y": {"field": "y", "type": "quantitative"}, "text": {"field": "t"}}
       }
      ]
     }
    ],
    "columns": 1,
    "align": "none",
    "spacing": 2,
    "resolve": {"scale": {"color": "independent"}, "legend": {"color": "independent"}}
   }
  ],
  "columns": 1,
  "align": "none",
  "spacing": -20,
  "resolve": {"scale": {"color": "independent"}, "legend": {"color": "independent"}}
 },
 {
  "vconcat": [
   {"width": 1, "height": 1, "data": {"values": []}, "mark": {"type": "rect"}},
   {
    "hconcat": [
     {
      "width": 55, "height": 1639,
      "title": {"text": "\u00a0", "fontSize": 10, "offset": 241},
      "data": {"name": "genes"},
      "mark": {"type": "rect"},
      "encoding": {
       "y": {"field": "gene", "type": "nominal", "sort": null, "axis": null, "scale": {"paddingInner": 0, "paddingOuter": 0}},
       "color": {"field": "cluster", "type": "nominal", "scale": {"domain": ["up_up", "down_down", "up_down"], "range": ["#ff0000", "#0000ff", "#ffa500"]}, "legend": null}
      }
     },
     {
      "width": 834, "height": 1639,
      "title": {"text": "NNA038 vs NNA048", "fontSize": 72, "font": "Lato", "fontWeight": "bold", "frame": "group", "anchor": "middle", "offset": 23, "dx": 15, "color": "#000"},
      "layer": [
       {
        "data": {"name": "genes"},
        "transform": [{"fold": ["P", "T"], "as": ["col", "val"]}],
        "mark": {"type": "rect"},
        "encoding": {
         "x": {"field": "col", "type": "nominal", "scale": {"domain": ["P", "T"], "paddingInner": 0, "paddingOuter": 0},
               "axis": {"orient": "bottom", "title": null, "ticks": false, "domain": false, "labelAngle": 270, "labelAlign": "right", "labelBaseline": "middle",
                        "labelFontSize": 50, "labelColor": "#000", "labelPadding": 22, "labelLimit": 800,
                        "labelExpr": "datum.value == 'P' ? 'Protein.log2fc.' : 'Tran.log2fc.'"}},
         "y": {"field": "gene", "type": "nominal", "sort": null, "scale": {"paddingInner": 0, "paddingOuter": 0},
               "axis": {"orient": "right", "title": null, "ticks": false, "domain": false, "labelFontSize": 31, "labelColor": "#111", "labelPadding": 20, "labelLimit": 800, "labelOverlap": false}},
         "color": {"field": "val", "type": "quantitative",
                   "scale": {"type": "linear", "domain": [-0.6, -0.4, -0.2, 0, 0.2, 0.4, 0.6], "range": ["#0000ff", "#7f40ff", "#d3aaf7", "#ffffff", "#ffb6a0", "#ff5533", "#ff0000"], "clamp": true, "interpolate": "rgb"},
                   "legend": null}
        }
       },
       {
        "data": {"values": [{"col": "P", "h0": 0, "h1": 1}, {"col": "T", "h0": 0, "h1": 1}]},
        "mark": {"type": "rule", "color": "#222", "strokeWidth": 3},
        "encoding": {
         "x": {"field": "col", "type": "nominal"},
         "y": {"field": "h0", "type": "quantitative", "scale": {"domain": [0, 1], "range": [-13, -121], "nice": false, "zero": false}, "axis": null},
         "y2": {"field": "h1"}
        }
       },
       {
        "data": {"values": [{"c1": "P", "c2": "T", "h": 1}]},
        "mark": {"type": "rule", "color": "#222", "strokeWidth": 3},
        "encoding": {
         "x": {"field": "c1", "type": "nominal"},
         "x2": {"field": "c2"},
         "y": {"field": "h", "type": "quantitative", "scale": {"domain": [0, 1], "range": [-13, -121], "nice": false, "zero": false}, "axis": null}
        }
       }
      ],
      "resolve": {"scale": {"y": "independent"}}
     },
     {
      "width": 52, "height": 1639,
      "data": {"name": "genes"},
      "layer": [
       {
        "mark": {"type": "rect"},
        "encoding": {
         "x": {"datum": "func", "type": "nominal", "scale": {"paddingInner": 0, "paddingOuter": 0},
               "axis": {"orient": "bottom", "title": null, "ticks": false, "domain": false, "labelAngle": 270, "labelAlign": "right", "labelBaseline": "middle", "labelFontSize": 50, "labelColor": "#000", "labelPadding": 22}},
         "y": {"field": "gene", "type": "nominal", "sort": null, "axis": null, "scale": {"paddingInner": 0, "paddingOuter": 0}},
         "color": {"field": "cluster", "type": "nominal", "scale": {"domain": ["up_up", "down_down", "up_down"], "range": ["#ff0000", "#0000ff", "#ffa500"]},
                   "legend": {"title": "cluster", "orient": "none", "legendX": 79, "legendY": 154, "direction": "vertical",
                              "titleFontSize": 39, "titleFontWeight": "bold", "titleColor": "#000", "titlePadding": 12,
                              "labelFontSize": 38, "labelColor": "#000", "labelOffset": 11,
                              "symbolType": "M -0.93 -1 H 0.93 V 1 H -0.93 Z", "symbolSize": 1936, "symbolStrokeWidth": 0, "rowPadding": 7}}
        }
       },
       {
        "mark": {"type": "rect"},
        "encoding": {
         "x": {"datum": "func", "type": "nominal"},
         "y": {"field": "gene", "type": "nominal", "sort": null},
         "color": {"field": "P", "type": "quantitative",
                   "scale": {"type": "linear", "domain": [-0.6, -0.4, -0.2, 0, 0.2, 0.4, 0.6], "range": ["#0000ff", "#7f40ff", "#d3aaf7", "#ffffff", "#ffb6a0", "#ff5533", "#ff0000"], "clamp": true, "interpolate": "rgb"},
                   "legend": {"type": "symbol", "title": "expression", "values": [0.4, 0.2, 0, -0.2, -0.4], "orient": "none", "legendX": 79, "legendY": 373, "direction": "vertical",
                              "titleFontSize": 39, "titleFontWeight": "bold", "titleColor": "#000", "titlePadding": 14,
                              "labelFontSize": 38, "labelColor": "#000", "labelOffset": 11,
                              "labelExpr": "datum.value == 0 ? '0' : format(datum.value, '.1f')",
                              "symbolType": "M -1 -0.98 H 1 V 0.98 H -1 Z", "symbolSize": 1681, "symbolStrokeWidth": 0, "rowPadding": 8}}
        }
       },
       {
        "mark": {"type": "rect"},
        "encoding": {
         "x": {"datum": "func", "type": "nominal"},
         "y": {"field": "gene", "type": "nominal", "sort": null},
         "color": {"field": "func", "type": "nominal",
                   "scale": {"domain": ["Biosynthesis of amino acids(map01230)", "Fatty acid metabolism(map01212)", "Pyrimidine metabolism(map00240)", "Sulfur relay system(map04122)", "Endocytosis(map04144)", "Lipoic acid metabolism(map00785)", "Carbon metabolism(map01200)", "-", "Glycerophospholipid metabolism(map00564)", "Starch and sucrose metabolism(map00500)", "Amino sugar and nucleotide sugar metabolism(map00520)", "Fructose and mannose metabolism(map00051)", "Protein digestion and absorption(map04974)", "Terpenoid backbone biosynthesis(map00900)"],
                             "range": ["#ee1ccc", "#b91fd0", "#14cfa3", "#14c864", "#12c858", "#04c80a", "#14ccac", "#b31ed0", "#10a8d0", "#10cccc", "#00c800", "#80c800", "#ee1040", "#c8c800"]},
                   "legend": {"title": "func", "orient": "none", "legendX": 70.5, "legendY": 692, "direction": "vertical",
                              "titleFontSize": 39, "titleFontWeight": "bold", "titleColor": "#000", "titlePadding": 12,
                              "labelFontSize": 31, "labelColor": "#111", "labelOffset": 4,
                              "symbolType": "M -0.7 -1 H 0.7 V 1 H -0.7 Z", "symbolSize": 3364, "symbolStrokeWidth": 0, "rowPadding": 3}}
        }
       }
      ],
      "resolve": {"scale": {"color": "independent"}, "legend": {"color": "independent"}}
     }
    ],
    "spacing": 33,
    "resolve": {"scale": {"color": "independent"}, "legend": {"color": "independent"}},
    "title": {"text": "D\u00a0\u00a0\u00a0\u00a0Funtional annotation of the DEPs", "orient": "bottom", "anchor": "start", "fontSize": 72, "font": "Lato", "fontWeight": "bold", "offset": 85, "color": "#000"}
   }
  ],
  "spacing": -47,
  "resolve": {"scale": {"color": "independent"}, "legend": {"color": "independent"}}
 }
],
"columns": 2,
"align": "none",
"spacing": 80,
"resolve": {"scale": {"color": "independent"}, "legend": {"color": "independent"}}
}
